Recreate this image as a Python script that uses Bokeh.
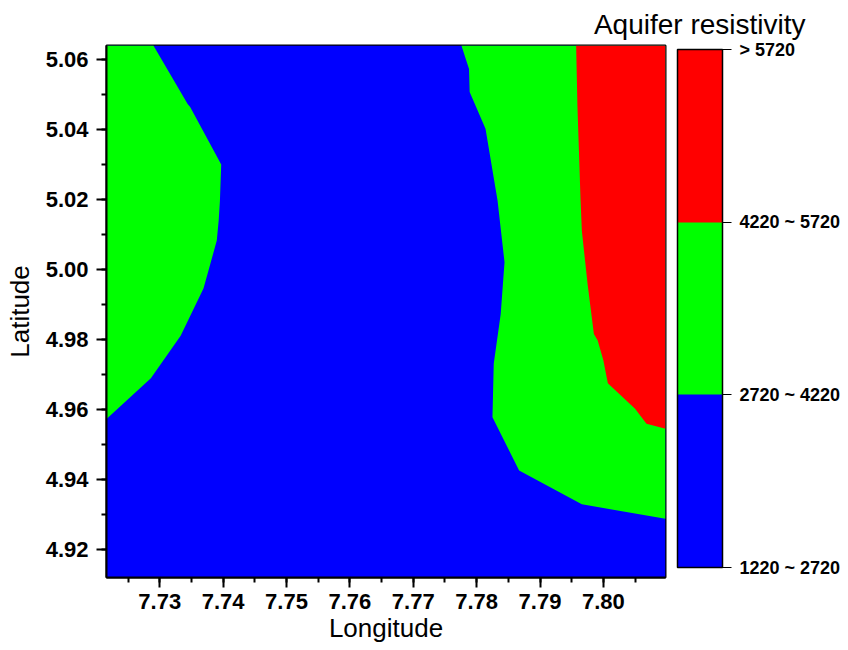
from bokeh.plotting import figure
from bokeh.models import (Range1d, SingleIntervalTicker, PrintfTickFormatter, ColorBar,
                          LinearColorMapper, FixedTicker, Title)
from bokeh.embed import file_html
from bokeh.resources import INLINE

# map extent (longitude / latitude)
LON_RANGE = [7.7216, 7.8098]
LAT_RANGE = [4.912, 5.064]

# resistivity classes
class_bounds = [1220, 2720, 4220, 5720]
class_labels = ["1220 ~ 2720", "2720 ~ 4220", "4220 ~ 5720", "> 5720"]
class_colors = ["#0000ff", "#00ff00", "#ff0000"]

# west 2720 contour (green zone at left), from top edge to left edge
west_lon = [7.7290, 7.7344, 7.7348, 7.7397, 7.7395, 7.7393, 7.7390, 7.7380, 7.7369, 7.7333, 7.7286, 7.7216]
west_lat = [5.0640, 5.0473, 5.0464, 5.0300, 5.0197, 5.0140, 5.0083, 5.0017, 4.9946, 4.9811, 4.9689, 4.9573]

# east 2720 contour (green zone at right), from top edge to right edge
east_lon = [7.7776, 7.7788, 7.7789, 7.7814, 7.7833, 7.7844, 7.7838, 7.7827, 7.7825, 7.7867, 7.7966, 7.8098]
east_lat = [5.0640, 5.0573, 5.0507, 5.0402, 5.0197, 5.0021, 4.9873, 4.9731, 4.9578, 4.9426, 4.9329, 4.9288]

# 4220 contour (red zone), from top edge to right edge
red_lon = [7.7957, 7.7959, 7.7964, 7.7966, 7.7975, 7.7985, 7.7991, 7.8000, 7.8007, 7.8050, 7.8068, 7.8098]
red_lat = [5.0640, 5.0469, 5.0197, 5.0111, 4.9959, 4.9816, 4.9797, 4.9740, 4.9675, 4.9602, 4.9559, 4.9545]

FONT = "Liberation Sans"

p = figure(width=848, height=650,
           x_range=Range1d(*LON_RANGE), y_range=Range1d(*LAT_RANGE),
           output_backend="svg", toolbar_location=None,
           min_border_left=106, min_border_right=183, min_border_top=45, min_border_bottom=73)

lon_min, lon_max = LON_RANGE
lat_min, lat_max = LAT_RANGE

# base class (blue)
p.quad(left=[lon_min], right=[lon_max], bottom=[lat_min], top=[lat_max],
       fill_color=class_colors[0], line_color=None)
# green zones
p.patch([lon_min] + west_lon, [lat_max] + west_lat, fill_color=class_colors[1], line_color=None)
p.patch(east_lon + [lon_max], east_lat + [lat_max], fill_color=class_colors[1], line_color=None)
# red zone
p.patch(red_lon + [lon_max], red_lat + [lat_max], fill_color=class_colors[2], line_color=None)

p.grid.visible = False
p.outline_line_color = "black"
p.outline_line_width = 2

p.xaxis.ticker = SingleIntervalTicker(interval=0.01, num_minor_ticks=2)
p.yaxis.ticker = SingleIntervalTicker(interval=0.02, num_minor_ticks=2)
p.xaxis.formatter = PrintfTickFormatter(format="%.2f")
p.yaxis.formatter = PrintfTickFormatter(format="%.2f")
p.xaxis.axis_label = "Longitude"
p.yaxis.axis_label = "Latitude"

for ax in (p.xaxis, p.yaxis):
    ax.axis_line_width = 2
    ax.axis_line_color = "black"
    ax.major_tick_line_width = 2
    ax.minor_tick_line_width = 2
    ax.major_tick_line_color = "black"
    ax.minor_tick_line_color = "black"
    ax.major_tick_out = 10
    ax.major_tick_in = 0
    ax.minor_tick_out = 5
    ax.minor_tick_in = 0
    ax.major_label_text_font = FONT
    ax.major_label_text_font_style = "bold"
    ax.major_label_text_font_size = "22px"
    ax.major_label_text_color = "black"
    ax.axis_label_text_font = FONT
    ax.axis_label_text_font_style = "normal"
    ax.axis_label_text_font_size = "26px"
    ax.axis_label_text_color = "black"

p.xaxis.major_label_standoff = 6
p.xaxis.axis_label_standoff = 1
p.yaxis.major_label_standoff = 8
p.yaxis.axis_label_standoff = 8

mapper = LinearColorMapper(palette=class_colors, low=class_bounds[0], high=class_bounds[-1])
cb = ColorBar(color_mapper=mapper, ticker=FixedTicker(ticks=class_bounds),
              major_label_overrides={b: l for b, l in zip(class_bounds, class_labels)},
              width=45, height=518, location=(571, 10), padding=0, margin=0,
              orientation="vertical",
              major_tick_out=9, major_tick_in=0, major_tick_line_color="black", major_tick_line_width=1,
              bar_line_color="black", bar_line_width=1.5,
              label_standoff=8,
              major_label_text_font=FONT, major_label_text_font_style="bold",
              major_label_text_font_size="18px", major_label_text_color="black",
              background_fill_alpha=0, border_line_color=None)
p.add_layout(cb, "center")

title = Title(text="Aquifer resistivity", align="right", offset=-140, standoff=12,
              text_font=FONT, text_font_size="28px", text_font_style="normal",
              text_color="black")
p.add_layout(title, "above")

open("out.html", "w").write(file_html(p, INLINE))
